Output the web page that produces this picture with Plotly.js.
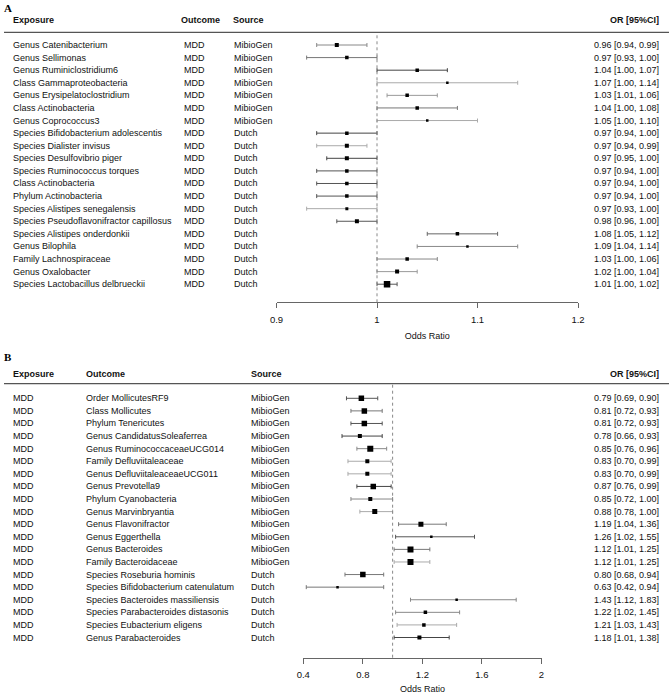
<!DOCTYPE html>
<html><head><meta charset="utf-8">
<script src="https://cdn.plot.ly/plotly-3.0.1.min.js"></script>
<style>html,body{margin:0;padding:0;background:#fff}</style>
</head><body><div id="chart" style="width:669px;height:694px"></div>
<script>
// ---------- Panel A data ----------
const exposureA = ["Genus Catenibacterium","Genus Sellimonas","Genus Ruminiclostridium6","Class Gammaproteobacteria","Genus Erysipelatoclostridium","Class Actinobacteria","Genus Coprococcus3","Species Bifidobacterium adolescentis","Species Dialister invisus","Species Desulfovibrio piger","Species Ruminococcus torques","Class Actinobacteria","Phylum Actinobacteria","Species Alistipes senegalensis","Species Pseudoflavonifractor capillosus","Species Alistipes onderdonkii","Genus Bilophila","Family Lachnospiraceae","Genus Oxalobacter","Species Lactobacillus delbrueckii"];
const outcomeA = ["MDD","MDD","MDD","MDD","MDD","MDD","MDD","MDD","MDD","MDD","MDD","MDD","MDD","MDD","MDD","MDD","MDD","MDD","MDD","MDD"];
const sourceA = ["MibioGen","MibioGen","MibioGen","MibioGen","MibioGen","MibioGen","MibioGen","Dutch","Dutch","Dutch","Dutch","Dutch","Dutch","Dutch","Dutch","Dutch","Dutch","Dutch","Dutch","Dutch"];
const orA   = [0.96,0.97,1.04,1.07,1.03,1.04,1.05,0.97,0.97,0.97,0.97,0.97,0.97,0.97,0.98,1.08,1.09,1.03,1.02,1.01];
const lowA  = [0.94,0.93,1.00,1.00,1.01,1.00,1.00,0.94,0.94,0.95,0.94,0.94,0.94,0.93,0.96,1.05,1.04,1.00,1.00,1.00];
const highA = [0.99,1.00,1.07,1.14,1.06,1.08,1.10,1.00,0.99,1.00,1.00,1.00,1.00,1.00,1.00,1.12,1.14,1.06,1.04,1.02];
const tickValsA = [0.9,1,1.1,1.2];
const tickTextA = ["0.9","1","1.1","1.2"];

// ---------- Panel B data ----------
const exposureB = ["MDD","MDD","MDD","MDD","MDD","MDD","MDD","MDD","MDD","MDD","MDD","MDD","MDD","MDD","MDD","MDD","MDD","MDD","MDD","MDD"];
const outcomeB = ["Order MollicutesRF9","Class Mollicutes","Phylum Tenericutes","Genus CandidatusSoleaferrea","Genus RuminococcaceaeUCG014","Family Defluviitaleaceae","Genus DefluviitaleaceaeUCG011","Genus Prevotella9","Phylum Cyanobacteria","Genus Marvinbryantia","Genus Flavonifractor","Genus Eggerthella","Genus Bacteroides","Family Bacteroidaceae","Species Roseburia hominis","Species Bifidobacterium catenulatum","Species Bacteroides massiliensis","Species Parabacteroides distasonis","Species Eubacterium eligens","Genus Parabacteroides"];
const sourceB = ["MibioGen","MibioGen","MibioGen","MibioGen","MibioGen","MibioGen","MibioGen","MibioGen","MibioGen","MibioGen","MibioGen","MibioGen","MibioGen","MibioGen","Dutch","Dutch","Dutch","Dutch","Dutch","Dutch"];
const orB   = [0.79,0.81,0.81,0.78,0.85,0.83,0.83,0.87,0.85,0.88,1.19,1.26,1.12,1.12,0.80,0.63,1.43,1.22,1.21,1.18];
const lowB  = [0.69,0.72,0.72,0.66,0.76,0.70,0.70,0.76,0.72,0.78,1.04,1.02,1.01,1.01,0.68,0.42,1.12,1.02,1.03,1.01];
const highB = [0.90,0.93,0.93,0.93,0.96,0.99,0.99,0.99,1.00,1.00,1.36,1.55,1.25,1.25,0.94,0.94,1.83,1.45,1.43,1.38];
const tickValsB = [0.4,0.8,1.2,1.6,2];
const tickTextB = ["0.4","0.8","1.2","1.6","2"];

const refOR = 1;

// ---------- styles (kept apart from data) ----------
const boxSizeA = [4,3.5,3.5,2.5,3.5,3.5,2.5,3.5,4,4,3.5,3.5,3.5,3,4,3.5,2.5,3.5,4,6.5];
const ciShadeA = ["#888","#777","#444","#aaa","#999","#777","#aaa","#444","#aaa","#444","#555","#555","#555","#aaa","#555","#666","#888","#888","#999","#555"];
const boxSizeB = [5.5,5.5,5.5,4,6,4,4,5.5,4,5,5,2.5,6,6,5.5,2.5,2.5,3.5,3.5,4];
const ciShadeB = ["#555","#777","#555","#444","#888","#aaa","#aaa","#444","#888","#aaa","#777","#555","#777","#aaa","#777","#777","#888","#888","#aaa","#444"];

const W = 669, H = 694;
const px = x => x / W;
const py = y => 1 - y / H;
const ROW = 12.59;
const FONT = "Liberation Sans, Arial, sans-serif";
const TXT = "#111";

const traces = [];
const annotations = [];
const shapes = [];

function fmt(v){ return v.toFixed(2); }

function buildPanel(o){
  const n = o.or.length;
  for (let i = 0; i < n; i++){
    traces.push({
      type: "scatter", mode: "markers",
      x: [o.or[i]], y: [i + 1],
      xaxis: o.xa, yaxis: o.ya,
      marker: {symbol: "square", size: o.sizes[i], color: "#000", line: {width: 0}},
      error_x: {type: "data", symmetric: false,
        array: [o.hi[i] - o.or[i]], arrayminus: [o.or[i] - o.lo[i]],
        color: o.shades[i], thickness: 1, width: 2},
      hoverinfo: "skip", showlegend: false
    });
    const yref = o.ya;
    for (let c = 0; c < 3; c++){
      annotations.push({xref: "paper", yref: yref, x: px(o.colX[c]), y: i + 1,
        text: o.cols[c][i], showarrow: false, xanchor: "left", yanchor: "middle",
        font: {family: FONT, size: 9, color: TXT}});
    }
    annotations.push({xref: "paper", yref: yref, x: px(661), y: i + 1,
      text: fmt(o.or[i]) + " [" + fmt(o.lo[i]) + ", " + fmt(o.hi[i]) + "]",
      showarrow: false, xanchor: "right", yanchor: "middle",
      font: {family: FONT, size: 9, color: TXT}});
  }
  // headers
  const hdr = ["Exposure","Outcome","Source"];
  for (let c = 0; c < 3; c++){
    annotations.push({xref: "paper", yref: "paper", x: px(o.hdrX[c]), y: py(o.hdrY),
      text: "<b>" + hdr[c] + "</b>", showarrow: false, xanchor: "left", yanchor: "middle",
      font: {family: FONT, size: 9, color: TXT}});
  }
  annotations.push({xref: "paper", yref: "paper", x: px(661), y: py(o.hdrY),
    text: "<b>OR [95%CI]</b>", showarrow: false, xanchor: "right", yanchor: "middle",
    font: {family: FONT, size: 9, color: TXT}});
  // panel letter
  annotations.push({xref: "paper", yref: "paper", x: px(1.5), y: py(o.letterY),
    text: "<b>" + o.letter + "</b>", showarrow: false, xanchor: "left", yanchor: "middle",
    font: {family: "Liberation Serif, Times New Roman, serif", size: 11, color: "#000"}});
  // header rule
  shapes.push({type: "line", xref: "paper", yref: "paper", x0: px(4), x1: 1,
    y0: py(o.ruleY), y1: py(o.ruleY), line: {color: "#555", width: 1.2}});
  // reference line
  shapes.push({type: "line", xref: o.xa, yref: "paper", x0: refOR, x1: refOR,
    y0: py(o.axisY), y1: py(o.ruleY), line: {color: "#888", width: 1, dash: "dot"}});
}

// Panel A
buildPanel({
  or: orA, lo: lowA, hi: highA, sizes: boxSizeA, shades: ciShadeA,
  cols: [exposureA, outcomeA, sourceA], colX: [11, 182, 231.5], hdrX: [11, 179, 230.5],
  xa: "x", ya: "y", hdrY: 20, ruleY: 32.3, axisY: 302.3, letter: "A", letterY: 8
});
// Panel B
buildPanel({
  or: orB, lo: lowB, hi: highB, sizes: boxSizeB, shades: ciShadeB,
  cols: [exposureB, outcomeB, sourceB], colX: [11, 84, 248.7], hdrX: [11, 83.5, 248.5],
  xa: "x2", ya: "y2", hdrY: 373.7, ruleY: 383.7, axisY: 657.7, letter: "B", letterY: 356.7
});

function xAxis(domain, range, tv, tt, anchor){
  return {domain: domain, range: range, anchor: anchor,
    tickmode: "array", tickvals: tv, ticktext: tt,
    showline: true, linecolor: "#666", linewidth: 1,
    ticks: "outside", ticklen: 5, tickcolor: "#666", tickwidth: 1,
    ticklabelstandoff: 3,
    showgrid: false, zeroline: false, fixedrange: true,
    tickfont: {family: FONT, size: 9.5, color: TXT},
    title: {text: "Odds Ratio", font: {family: FONT, size: 9, color: TXT}, standoff: 8}};
}

// rows at pixel: firstRowY + (i-1)*ROW
const rangeFor = (firstRowY, ruleY, axisY) => [1 + (axisY - firstRowY) / ROW, 1 - (firstRowY - ruleY) / ROW];

const layout = {
  width: W, height: H, margin: {l: 0, r: 0, t: 0, b: 0},
  paper_bgcolor: "#fff", plot_bgcolor: "rgba(0,0,0,0)",
  font: {family: FONT, color: TXT},
  showlegend: false,
  xaxis: xAxis([px(276.5), px(578)], [0.9, 1.2], tickValsA, tickTextA, "y"),
  yaxis: {domain: [py(302.3), py(32.3)], range: rangeFor(45, 32.3, 302.3), visible: false, fixedrange: true},
  xaxis2: xAxis([px(303.3), px(541.5)], [0.4, 2], tickValsB, tickTextB, "y2"),
  yaxis2: {domain: [py(657.7), py(383.7)], range: rangeFor(398.3, 383.7, 657.7), visible: false, fixedrange: true},
  annotations: annotations,
  shapes: shapes
};

Plotly.newPlot("chart", traces, layout, {displayModeBar: false, staticPlot: true});
</script>
</body></html>
